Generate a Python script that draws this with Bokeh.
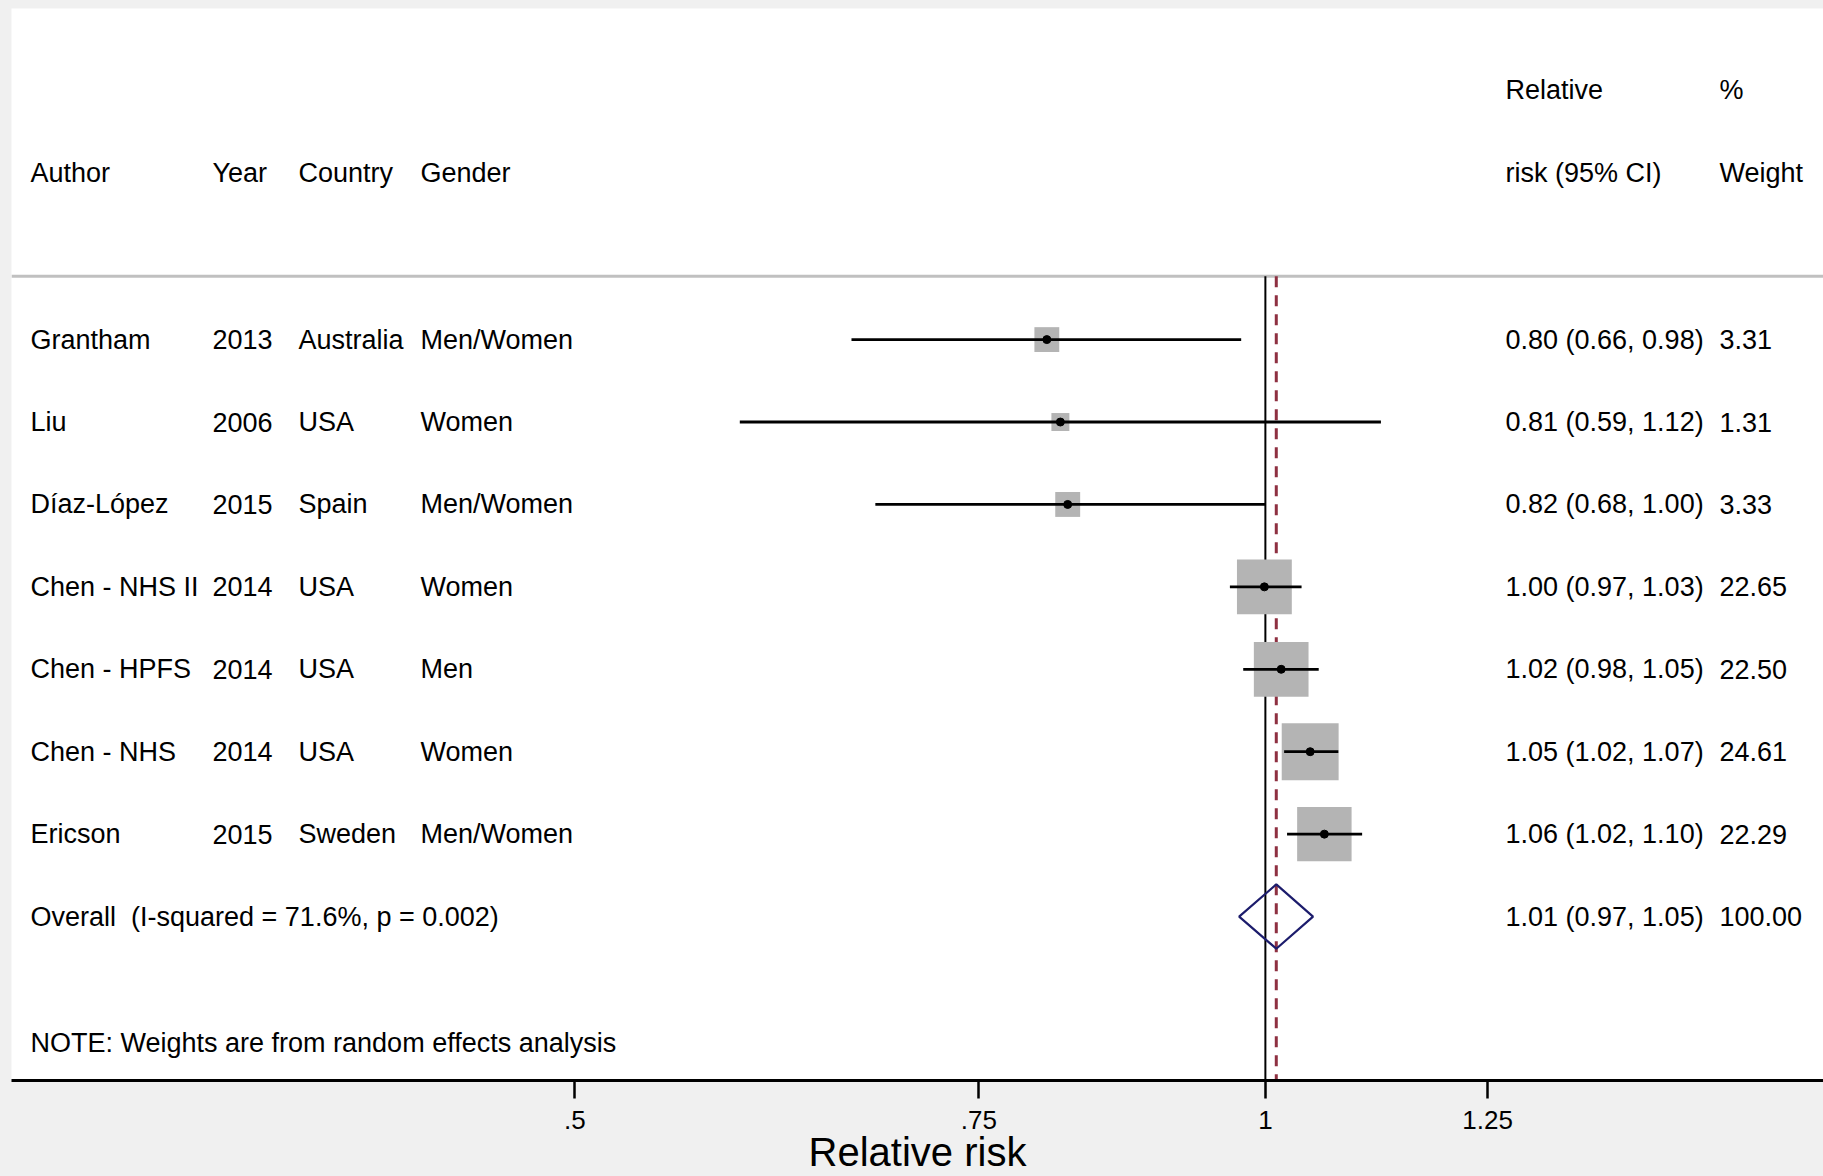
import numpy as np
from bokeh.plotting import figure
from bokeh.models import Range1d, LinearScale, FixedTicker, ColumnDataSource
from bokeh.core.properties import value
from bokeh.embed import file_html
from bokeh.resources import INLINE

# ---------------- data ----------------
authors = ["Grantham", "Liu", "Díaz-López", "Chen - NHS II", "Chen - HPFS", "Chen - NHS", "Ericson"]
years = ["2013", "2006", "2015", "2014", "2014", "2014", "2015"]
countries = ["Australia", "USA", "Spain", "USA", "USA", "USA", "Sweden"]
genders = ["Men/Women", "Women", "Men/Women", "Women", "Men", "Women", "Men/Women"]
rr = [0.803, 0.814, 0.820, 0.999, 1.016, 1.046, 1.061]
ci_low = [0.660, 0.590, 0.676, 0.965, 0.978, 1.019, 1.022]
ci_high = [0.976, 1.123, 1.000, 1.037, 1.055, 1.076, 1.102]
weights = [3.31, 1.31, 3.33, 22.65, 22.50, 24.61, 22.29]
rr_labels = ["0.80 (0.66, 0.98)", "0.81 (0.59, 1.12)", "0.82 (0.68, 1.00)", "1.00 (0.97, 1.03)",
             "1.02 (0.98, 1.05)", "1.05 (1.02, 1.07)", "1.06 (1.02, 1.10)"]
weight_labels = ["3.31", "1.31", "3.33", "22.65", "22.50", "24.61", "22.29"]

overall_rr = 1.011
overall_low = 0.974
overall_high = 1.049
overall_label = "Overall\u00a0 (I-squared = 71.6%, p = 0.002)"
overall_rr_label = "1.01 (0.97, 1.05)"
overall_weight_label = "100.00"
note = "NOTE: Weights are from random effects analysis"

null_value = 1.0
tick_values = [0.5, 0.75, 1.0, 1.25]
tick_labels = [".5", ".75", "1", "1.25"]
x_title = "Relative risk"

# ---------------- layout ----------------
W, H = 1823, 1176
FONT = value("Liberation Sans")
FS = "27px"
n = len(authors)
rows = list(range(n))
overall_row = n
Y_TOP, Y_BOTTOM = -4.017, 8.989
HEAD1, HEAD2, HEAD_LINE, NOTE_ROW = -3.023, -2.017, -0.768, 8.528
COL_AUTHOR, COL_YEAR, COL_COUNTRY, COL_GENDER, COL_RR, COL_W = 30, 212, 298, 420, 1505, 1719

p = figure(width=W, height=H, x_axis_type="log",
           x_range=Range1d(0.2840, 1.7512), y_range=Range1d(Y_BOTTOM, Y_TOP),
           output_backend="svg", toolbar_location=None, y_axis_location=None,
           min_border_left=11, min_border_right=0, min_border_top=8, min_border_bottom=95)
p.extra_x_ranges = {"px": Range1d(11, 1823)}
p.extra_x_scales = {"px": LinearScale()}
p.background_fill_color = "white"
p.border_fill_color = "#f0f0f0"
p.outline_line_color = None
p.xgrid.visible = False
p.ygrid.visible = False

# header separator
p.segment(x0=[11], x1=[1823], y0=[HEAD_LINE], y1=[HEAD_LINE], x_range_name="px",
          line_color="#c0c0c0", line_width=3)

# null line and overall line
p.segment(x0=[null_value], x1=[null_value], y0=[HEAD_LINE], y1=[Y_BOTTOM],
          line_color="black", line_width=2)
p.segment(x0=[overall_rr], x1=[overall_rr], y0=[HEAD_LINE], y1=[Y_BOTTOM],
          line_color="#8e3041", line_width=3, line_dash="11 8")

src = ColumnDataSource(dict(rr=rr, lo=ci_low, hi=ci_high, y=rows,
                            size=[6.3 + 10.2 * np.sqrt(w) for w in weights]))
p.scatter(x="rr", y="y", size="size", marker="square", source=src,
          fill_color="#b4b4b4", line_color=None)
p.segment(x0="lo", x1="hi", y0="y", y1="y", source=src, line_color="black", line_width=2.8)
p.scatter(x="rr", y="y", size=8, marker="circle", source=src,
          fill_color="black", line_color="black")

# overall diamond
dh = 0.39
p.patch(x=[overall_low, overall_rr, overall_high, overall_rr, overall_low],
        y=[overall_row, overall_row - dh, overall_row, overall_row + dh, overall_row],
        fill_color=None, line_color="#1c1c6c", line_width=2.2)

# texts
def add_text(xs, ys, texts, size=FS):
    p.text(x=xs, y=ys, text=texts, x_range_name="px", text_font=FONT, text_font_size=size,
           text_baseline="middle", text_align="left", text_color="black")

add_text([COL_AUTHOR, COL_YEAR, COL_COUNTRY, COL_GENDER, COL_RR, COL_W],
         [HEAD2] * 6, ["Author", "Year", "Country", "Gender", "risk (95% CI)", "Weight"])
add_text([COL_RR, COL_W], [HEAD1] * 2, ["Relative", "%"])
add_text([COL_AUTHOR] * n, rows, authors)
add_text([COL_YEAR] * n, rows, years)
add_text([COL_COUNTRY] * n, rows, countries)
add_text([COL_GENDER] * n, rows, genders)
add_text([COL_RR] * n, rows, rr_labels)
add_text([COL_W] * n, rows, weight_labels)
add_text([COL_AUTHOR, COL_RR, COL_W], [overall_row] * 3,
         [overall_label, overall_rr_label, overall_weight_label])
add_text([COL_AUTHOR], [NOTE_ROW], [note])

# axis
ax = p.xaxis[0]
ax.ticker = FixedTicker(ticks=tick_values)
ax.major_label_overrides = dict(zip(tick_values, tick_labels))
ax.minor_tick_line_color = None
ax.axis_line_width = 3
ax.axis_line_color = "black"
ax.major_tick_line_width = 2.5
ax.major_tick_line_color = "black"
ax.major_tick_out = 18
ax.major_tick_in = 0
ax.major_label_text_font = "Liberation Sans"
ax.major_label_text_font_size = "26px"
ax.major_label_text_color = "black"
ax.major_label_standoff = 12
ax.axis_label = x_title
ax.axis_label_text_font = "Liberation Sans"
ax.axis_label_text_font_size = "40px"
ax.axis_label_text_font_style = "normal"
ax.axis_label_text_color = "black"
ax.axis_label_standoff = -2

html = file_html(p, INLINE, title="Forest plot")
html = html.replace("</head>", "<style>html,body{background:#f0f0f0;overflow:hidden;}</style></head>", 1)
open("out.html", "w").write(html)
